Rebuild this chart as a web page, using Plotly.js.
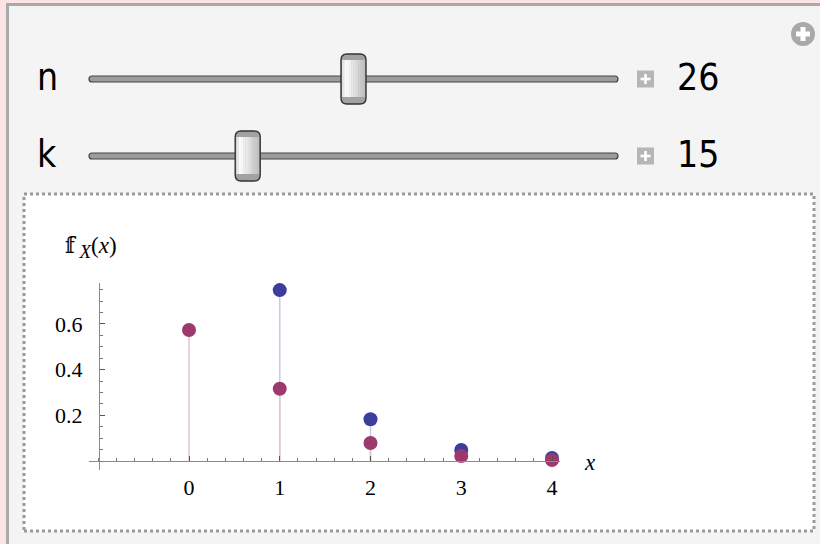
<!DOCTYPE html>
<html>
<head>
<meta charset="utf-8">
<script src="https://cdn.plot.ly/plotly-3.0.1.min.js"></script>
<style>html,body{margin:0;padding:0;overflow:hidden;}#chart{width:820px;height:544px;}</style>
</head>
<body>
<div id="chart"></div>
<script>
// ---- data ----
const xBlue = [1, 2, 3, 4];
const pBlue = [0.748, 0.183, 0.048, 0.013];
const xPurple = [0, 1, 2, 3, 4];
const pPurple = [0.573, 0.316, 0.079, 0.022, 0.004];
const xTickVals = [0, 1, 2, 3, 4];
const xTickText = ['0', '1', '2', '3', '4'];
const yTickVals = [0.2, 0.4, 0.6];
const yTickText = ['0.2', '0.4', '0.6'];
const sliderNames = ['n', 'k'];
const sliderValues = [26, 15];
const sliderMins = [2, 0];
const sliderMaxs = [50, 50];

// ---- helpers (pixel -> paper) ----
const W = 820, H = 544;
const px = v => v / W;
const py = v => 1 - v / H;
function P(x, y) { return px(x).toFixed(5) + ',' + py(y).toFixed(5); }
function rrPath(x0, y0, x1, y1, r) {
  return 'M' + P(x0 + r, y0) + ' L' + P(x1 - r, y0) + ' Q' + P(x1, y0) + ' ' + P(x1, y0 + r) +
    ' L' + P(x1, y1 - r) + ' Q' + P(x1, y1) + ' ' + P(x1 - r, y1) +
    ' L' + P(x0 + r, y1) + ' Q' + P(x0, y1) + ' ' + P(x0, y1 - r) +
    ' L' + P(x0, y0 + r) + ' Q' + P(x0, y0) + ' ' + P(x0 + r, y0) + ' Z';
}
function rect(x0, y0, x1, y1, fill, lineColor, lineWidth, dash) {
  return {type: 'rect', xref: 'paper', yref: 'paper', x0: px(x0), x1: px(x1), y0: py(y1), y1: py(y0),
    fillcolor: fill, line: {color: lineColor || 'rgba(0,0,0,0)', width: lineWidth || 0, dash: dash || 'solid'}, layer: 'below'};
}
function path(d, fill, lineColor, lineWidth, layer) {
  return {type: 'path', xref: 'paper', yref: 'paper', path: d, fillcolor: fill,
    line: {color: lineColor || 'rgba(0,0,0,0)', width: lineWidth || 0}, layer: layer || 'above'};
}

const shapes = [];
const annotations = [];
// panel
shapes.push(rect(7.5, 4.5, 830, 560, '#f4f4f4', '#a9a9a9', 3));
// plot frame
shapes.push(rect(24, 194, 814, 531, '#ffffff', '#9a9a9a', 3, 'dot'));

// sliders
const trackX0 = 89, trackX1 = 618;
const sliderY = [79, 156];
for (let i = 0; i < 2; i++) {
  const cy = sliderY[i];
  annotations.push({xref: 'paper', yref: 'paper', x: px(47), y: py(cy - 2), xanchor: 'center', yanchor: 'middle',
    text: sliderNames[i], showarrow: false, font: {family: 'DejaVu Sans Condensed, DejaVu Sans', size: 37, color: '#000'}});
  annotations.push({xref: 'paper', yref: 'paper', x: px(675), y: py(cy - 2), xanchor: 'left', yanchor: 'middle',
    text: String(sliderValues[i]), showarrow: false, font: {family: 'DejaVu Sans Condensed, DejaVu Sans', size: 37, color: '#000'}});
  shapes.push(path(rrPath(trackX0, cy - 3, trackX1, cy + 3, 3), '#9c9c9c', '#444444', 1.2));
  const frac = (sliderValues[i] - sliderMins[i]) / (sliderMaxs[i] - sliderMins[i]);
  const tc = trackX0 + frac * (trackX1 - trackX0);
  const tx0 = tc - 12.5, tx1 = tc + 12.5, ty0 = cy - 25, ty1 = cy + 25;
  shapes.push(path(rrPath(tx0, ty0, tx1, ty1, 6), '#a2a2a2', 'rgba(0,0,0,0)', 0));
  const stripeCols = ['#e4e4e4', '#fbfbfb', '#f6f6f6', '#efefef', '#e8e8e8', '#e0e0e0', '#d8d8d8', '#d0d0d0', '#c8c8c8', '#c0c0c0'];
  const sw = (tx1 - tx0 - 2) / stripeCols.length;
  for (let s = 0; s < stripeCols.length; s++) {
    shapes.push(Object.assign(rect(tx0 + 1 + s * sw, ty0 + 6, tx0 + 1 + (s + 1) * sw + 0.3, ty1 - 7, stripeCols[s]), {layer: 'above'}));
  }
  shapes.push(path(rrPath(tx0, ty0, tx1, ty1, 6), 'rgba(0,0,0,0)', '#333333', 1.4));
  const bx0 = 637, bx1 = 654, by0 = cy - 8.5, by1 = cy + 8.5;
  shapes.push(Object.assign(rect(bx0, by0, bx1, by1, '#b6b6b6'), {layer: 'above'}));
  shapes.push(Object.assign(rect(bx0 + 3.5, cy - 1.3, bx1 - 3.5, cy + 1.3, '#ffffff'), {layer: 'above'}));
  shapes.push(Object.assign(rect((bx0 + bx1) / 2 - 1.3, by0 + 3.5, (bx0 + bx1) / 2 + 1.3, by1 - 3.5, '#ffffff'), {layer: 'above'}));
}
// top-right circle icon
shapes.push({type: 'circle', xref: 'paper', yref: 'paper', x0: px(791), x1: px(815), y0: py(46), y1: py(22),
  fillcolor: '#a9a9a9', line: {width: 0}, layer: 'above'});
shapes.push(Object.assign(rect(796, 31.5, 810, 36.5, '#ffffff'), {layer: 'above'}));
shapes.push(Object.assign(rect(800.5, 27, 805.5, 41, '#ffffff'), {layer: 'above'}));

// axis labels
annotations.push({xref: 'paper', yref: 'paper', x: px(582), y: py(462), xanchor: 'left', yanchor: 'middle',
  text: '<i>x</i>', showarrow: false, font: {family: 'Liberation Serif', size: 23, color: '#000'}});
annotations.push({xref: 'paper', yref: 'paper', x: px(63), y: py(247), xanchor: 'left', yanchor: 'middle',
  text: '𝕗\u2009<sub><span style="font-size:19px"><i>X</i></span></sub>(<i>x</i>)', showarrow: false,
  font: {family: 'Liberation Serif, DejaVu Serif', size: 23, color: '#000'}});

function stems(xs, ys) {
  const sx = [], sy = [];
  xs.forEach((x, i) => { sx.push(x, x, null); sy.push(0, ys[i], null); });
  return {sx, sy};
}
const sb = stems(xBlue, pBlue);
const sp = stems(xPurple, pPurple);

const dx0 = 89, dx1 = 560, dyTop = 283, dyBot = 470;
const x0px = 189, unitX = 90.75, y0px = 461, unitY = 228.5;
const xRange = [(dx0 - x0px) / unitX, (dx1 - x0px) / unitX];
const yRange = [(y0px - dyBot) / unitY, (y0px - dyTop) / unitY];

const traces = [
  {x: sb.sx, y: sb.sy, mode: 'lines', line: {color: '#c9c9e3', width: 1.5}, hoverinfo: 'skip', showlegend: false, cliponaxis: false},
  {x: sp.sx, y: sp.sy, mode: 'lines', line: {color: '#e3c3d4', width: 1.5}, hoverinfo: 'skip', showlegend: false, cliponaxis: false},
  {x: xBlue, y: pBlue, mode: 'markers', marker: {color: '#3d3d9c', size: 14}, showlegend: false, cliponaxis: false},
  {x: xPurple, y: pPurple, mode: 'markers', marker: {color: '#9c3a6e', size: 14}, showlegend: false, cliponaxis: false}
];

const layout = {
  width: W, height: H,
  margin: {l: 0, r: 0, t: 0, b: 0, pad: 0},
  paper_bgcolor: '#fce4e4',
  plot_bgcolor: 'rgba(0,0,0,0)',
  showlegend: false,
  xaxis: {
    domain: [px(dx0), px(dx1)], range: xRange, anchor: 'free', position: py(y0px),
    showgrid: false, zeroline: false, showline: true, linecolor: '#8a8a8a', linewidth: 1.2,
    tickmode: 'array', tickvals: xTickVals, ticktext: xTickText,
    ticks: 'inside', ticklen: 5, tickwidth: 1, tickcolor: '#555',
    minor: {tickmode: 'linear', tick0: 0, dtick: 0.2, ticks: 'inside', ticklen: 3, tickwidth: 1, tickcolor: '#777', showgrid: false},
    ticklabelstandoff: 6,
    tickfont: {family: 'Liberation Serif', size: 22, color: '#000'}
  },
  yaxis: {
    domain: [py(dyBot), py(dyTop)], range: yRange, anchor: 'free', position: px(99),
    showgrid: false, zeroline: false, showline: true, linecolor: '#8a8a8a', linewidth: 1.2,
    tickmode: 'array', tickvals: yTickVals, ticktext: yTickText,
    ticks: 'inside', ticklen: 5, tickwidth: 1, tickcolor: '#555',
    minor: {tickmode: 'linear', tick0: 0, dtick: 0.05, ticks: 'inside', ticklen: 3, tickwidth: 1, tickcolor: '#777', showgrid: false},
    ticklabelstandoff: 12,
    tickfont: {family: 'Liberation Serif', size: 22, color: '#000'}
  },
  shapes: shapes,
  annotations: annotations
};

Plotly.newPlot('chart', traces, layout, {displayModeBar: false, staticPlot: true});
</script>
</body>
</html>
